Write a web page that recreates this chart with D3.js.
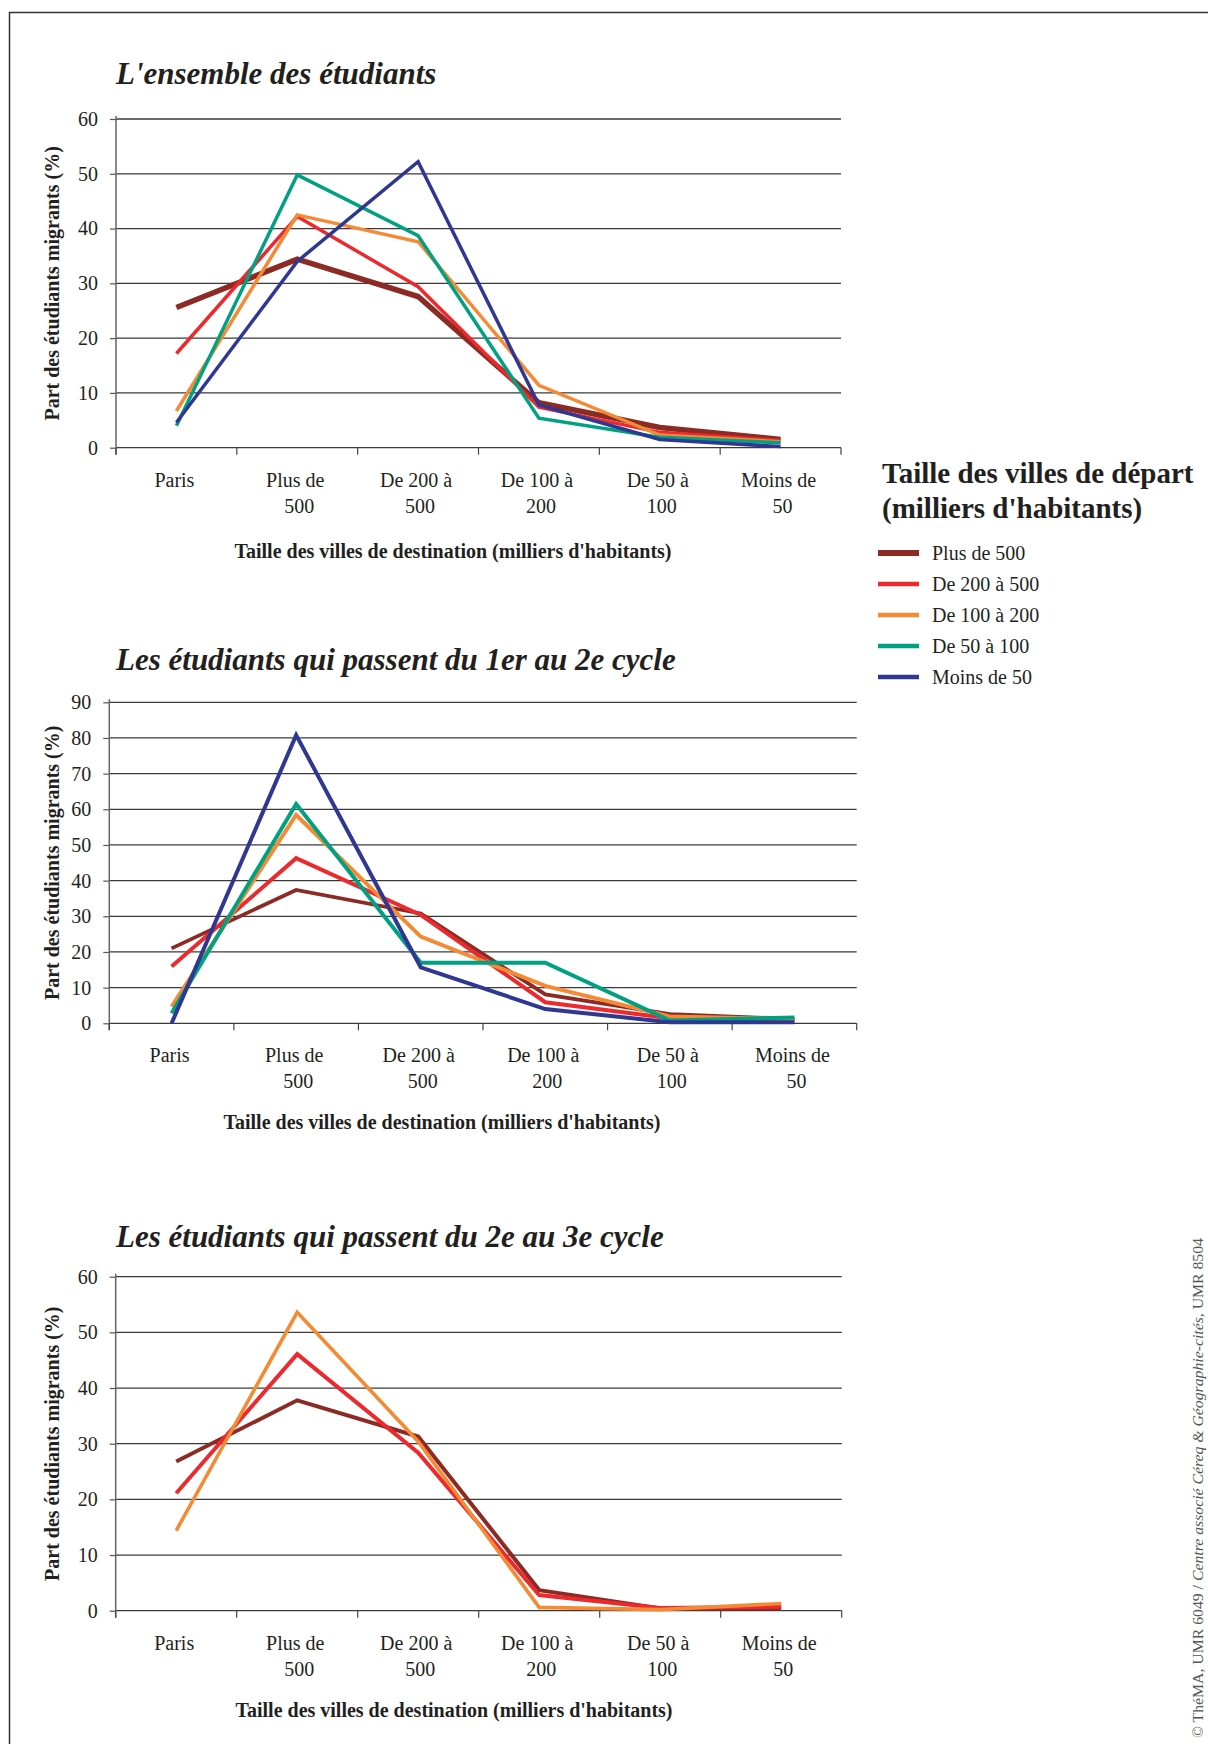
<!DOCTYPE html>
<html>
<head>
<meta charset="utf-8">
<script src="https://cdn.jsdelivr.net/npm/d3@7"></script>
<style>
  body { margin: 0; background: #fff; }
  svg text { font-family: "Liberation Serif", "Times New Roman", serif; fill: #231f20; }
</style>
</head>
<body>
<div id="chart"></div>
<script>
// categories (destination city size)
const categories = ["Paris", "Plus de 500", "De 200 à 500", "De 100 à 200", "De 50 à 100", "Moins de 50"];
const categoryLine1 = ["Paris", "Plus de", "De 200 à", "De 100 à", "De 50 à", "Moins de"];
const categoryLine2 = ["", "500", "500", "200", "100", "50"];

// series (departure city size)
const seriesNames = ["Plus de 500", "De 200 à 500", "De 100 à 200", "De 50 à 100", "Moins de 50"];
const seriesColors = ["#8c2a24", "#ec2a2e", "#f48a34", "#00a182", "#2e3792"];

// L'ensemble des étudiants
const ensPlus500 = [25.6, 34.4, 27.6, 8.2, 3.7, 1.5];
const ens200a500 = [17.2, 42.2, 29.4, 7.4, 2.8, 1.3];
const ens100a200 = [6.7, 42.5, 37.6, 11.4, 2.3, 1.1];
const ens50a100 = [4.0, 49.8, 38.7, 5.4, 1.9, 0.9];
const ensMoins50 = [4.6, 34.0, 52.2, 7.8, 1.5, 0.2];

// 1er -> 2e cycle
const c12Plus500 = [21.0, 37.4, 30.8, 8.1, 2.6, 1.2];
const c12_200a500 = [15.9, 46.3, 30.4, 5.9, 1.4, 0.8];
const c12_100a200 = [4.7, 58.4, 24.3, 10.5, 1.9, 1.2];
const c12_50a100 = [2.8, 61.5, 17.0, 17.0, 0.8, 1.6];
const c12Moins50 = [0, 80.8, 15.7, 4.0, 0.3, 0.3];

// 2e -> 3e cycle
const c23Plus500 = [26.8, 37.8, 31.3, 3.7, 0.4, 0.4];
const c23_200a500 = [21.1, 46.1, 28.4, 2.8, 0.5, 0.7];
const c23_100a200 = [14.4, 53.6, 30.4, 0.6, 0.2, 1.3];

const yTitle = "Part des étudiants migrants (%)";
const xTitle = "Taille des villes de destination (milliers d'habitants)";

const W = 1208, H = 1744;
const svg = d3.select("#chart").append("svg")
  .attr("width", W)
  .attr("height", H);

// frame
svg.append("rect")
  .attr("x", 9.5).attr("y", 12.5)
  .attr("width", W + 20).attr("height", H + 20)
  .attr("fill", "none").attr("stroke", "#333").attr("stroke-width", 1.5);

function drawChart(cfg){
  const x = d3.scaleBand().domain(categories).range([cfg.left, cfg.right]);
  const y = d3.scaleLinear().domain([0, cfg.yMax]).range([cfg.bottom, cfg.top]);
  const ticks = d3.range(0, cfg.yMax + 1, 10);
  const g = svg.append("g");

  g.append("text")
    .attr("x", 116).attr("y", cfg.titleY)
    .style("font-size", "31px").style("font-weight", "bold").style("font-style", "italic")
    .text(cfg.title);

  // gridlines
  g.append("g").selectAll("line").data(ticks).join("line")
    .attr("x1", cfg.left).attr("x2", cfg.right)
    .attr("y1", d => y(d)).attr("y2", d => y(d))
    .attr("stroke", "#3a3a3a").attr("stroke-width", 1.3);

  // y axis
  const yAxis = g.append("g")
    .attr("transform", `translate(${cfg.left},0)`)
    .call(d3.axisLeft(y).tickValues(ticks).tickSize(6).tickPadding(12).tickFormat(d3.format("d")));
  yAxis.select(".domain").remove();
  yAxis.selectAll(".tick line").attr("stroke", "#555").attr("stroke-width", 1.2);
  yAxis.selectAll(".tick text").style("font-size", "20px");

  g.append("line")
    .attr("x1", cfg.left).attr("x2", cfg.left)
    .attr("y1", cfg.top - 3).attr("y2", cfg.bottom + 7)
    .attr("stroke", "#666").attr("stroke-width", 1.5);

  // x ticks at band boundaries
  const bounds = categories.map(c => x(c)).concat([x.range()[1]]);
  g.append("g").selectAll("line").data(bounds).join("line")
    .attr("x1", d => d).attr("x2", d => d)
    .attr("y1", cfg.bottom).attr("y2", cfg.bottom + 7)
    .attr("stroke", "#444").attr("stroke-width", 1.2);

  // category labels
  const lab = g.append("g").selectAll("text").data(categories).join("text")
    .attr("text-anchor", "middle")
    .style("font-size", "20px");
  lab.append("tspan")
    .attr("x", d => x(d) + x.bandwidth() / 2 - 2)
    .attr("y", cfg.bottom + 39)
    .text((d, i) => categoryLine1[i]);
  lab.append("tspan")
    .attr("x", d => x(d) + x.bandwidth() / 2 + 2)
    .attr("y", cfg.bottom + 65)
    .text((d, i) => categoryLine2[i]);

  // axis titles
  g.append("text")
    .attr("text-anchor", "middle")
    .attr("transform", `translate(59,${(cfg.top + cfg.bottom) / 2}) rotate(-90)`)
    .style("font-size", "20px").style("font-weight", "bold")
    .text(yTitle);
  g.append("text")
    .attr("text-anchor", "middle")
    .attr("x", cfg.xTitleX).attr("y", cfg.xTitleY)
    .style("font-size", "20px").style("font-weight", "bold")
    .text(xTitle);

  // series lines
  const line = d3.line()
    .x((d, i) => x(categories[i]) + x.bandwidth() / 2)
    .y(d => y(d));
  g.append("g").selectAll("path").data(cfg.series).join("path")
    .attr("d", line)
    .attr("fill", "none")
    .attr("stroke", (d, i) => seriesColors[i])
    .attr("stroke-width", (d, i) => cfg.widths[i])
    .attr("stroke-linejoin", "miter");
}

drawChart({
  title: "L'ensemble des étudiants",
  left: 116, right: 841, top: 119, bottom: 447.7, yMax: 60,
  titleY: 84, xTitleX: 453, xTitleY: 558,
  series: [ensPlus500, ens200a500, ens100a200, ens50a100, ensMoins50],
  widths: [5.5, 3.5, 3.5, 3.5, 3.5]
});

drawChart({
  title: "Les étudiants qui passent du 1er au 2e cycle",
  left: 109.3, right: 856.7, top: 702.3, bottom: 1023.3, yMax: 90,
  titleY: 670, xTitleX: 442, xTitleY: 1129,
  series: [c12Plus500, c12_200a500, c12_100a200, c12_50a100, c12Moins50],
  widths: [3.8, 4, 4, 4, 4]
});

drawChart({
  title: "Les étudiants qui passent du 2e au 3e cycle",
  left: 115.7, right: 841.7, top: 1276.7, bottom: 1610.7, yMax: 60,
  titleY: 1246.5, xTitleX: 454, xTitleY: 1717,
  series: [c23Plus500, c23_200a500, c23_100a200],
  widths: [4, 4, 3.6]
});

// legend
const legend = svg.append("g");
legend.append("text")
  .attr("x", 882).attr("y", 483)
  .style("font-size", "29px").style("font-weight", "bold")
  .text("Taille des villes de départ");
legend.append("text")
  .attr("x", 882).attr("y", 518)
  .style("font-size", "29px").style("font-weight", "bold")
  .text("(milliers d'habitants)");
const rows = legend.selectAll("g.row").data(seriesNames).join("g")
  .attr("class", "row")
  .attr("transform", (d, i) => `translate(0,${553 + i * 31})`);
rows.append("line")
  .attr("x1", 878).attr("x2", 919)
  .attr("stroke", (d, i) => seriesColors[i])
  .attr("stroke-width", (d, i) => i === 0 ? 6 : 4.5);
rows.append("text")
  .attr("x", 932).attr("y", 7)
  .style("font-size", "20px")
  .text(d => d);

// credit (vertical, bottom right)
const credit = svg.append("text")
  .attr("transform", "translate(1203,1738) rotate(-90)")
  .attr("text-anchor", "start")
  .attr("textLength", 500)
  .attr("lengthAdjust", "spacingAndGlyphs")
  .style("font-size", "14px")
  .style("fill", "#555");
credit.append("tspan").text("© ThéMA, UMR 6049 / ");
credit.append("tspan").style("font-style", "italic").text("Centre associé Céreq & Géographie-cités");
credit.append("tspan").text(", UMR 8504");
</script>
</body>
</html>
